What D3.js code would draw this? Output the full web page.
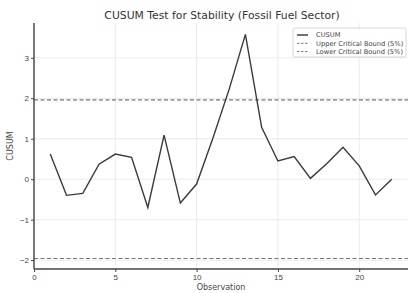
<!DOCTYPE html>
<html><head><meta charset="utf-8">
<script src="https://cdn.jsdelivr.net/npm/d3@7"></script>
<style>body{margin:0;background:#fff;} svg{display:block;font-family:"DejaVu Sans",sans-serif;}</style>
</head><body>
<script>
const observations = [1,2,3,4,5,6,7,8,9,10,11,12,13,14,15,16,17,18,19,20,21,22];
const cusum = [0.62,-0.40,-0.35,0.37,0.62,0.54,-0.70,1.09,-0.59,-0.12,1.01,2.22,3.58,1.28,0.45,0.56,0.02,0.38,0.79,0.33,-0.39,0.0];
const upperBound = 1.96;
const lowerBound = -1.96;
const xTicks = [0,5,10,15,20];
const yTicks = [-2,-1,0,1,2,3];
const legendLabels = ["CUSUM","Upper Critical Bound (5%)","Lower Critical Bound (5%)"];

const W=410,H=293;
const m={l:34,r:2,t:23,b:24};
const svg=d3.select("body").append("svg").attr("width",W).attr("height",H);
const x=d3.scaleLinear().domain([0,23]).range([m.l,W-m.r]);
const y=d3.scaleLinear().domain([-2.22,3.86]).range([H-m.b,m.t]);

// grid
svg.append("g").selectAll("line").data(xTicks).join("line")
 .attr("x1",d=>x(d)).attr("x2",d=>x(d)).attr("y1",m.t).attr("y2",H-m.b)
 .attr("stroke","#e6e6e6").attr("stroke-width",0.8);
svg.append("g").selectAll("line").data(yTicks).join("line")
 .attr("x1",m.l).attr("x2",W-m.r).attr("y1",d=>y(d)).attr("y2",d=>y(d))
 .attr("stroke","#e6e6e6").attr("stroke-width",0.8);

// bounds
[upperBound,lowerBound].forEach(b=>{
 svg.append("line").attr("x1",m.l).attr("x2",W-m.r).attr("y1",y(b)).attr("y2",y(b))
  .attr("stroke","#777").attr("stroke-width",1.2).attr("stroke-dasharray","4,2.5");
});

// line
svg.append("path").datum(observations.map((o,i)=>[o,cusum[i]]))
 .attr("fill","none").attr("stroke","#3a3a3a").attr("stroke-width",1.4)
 .attr("d",d3.line().x(d=>x(d[0])).y(d=>y(d[1])));

// axes
const xa=svg.append("g").attr("transform",`translate(0,${H-m.b})`)
 .call(d3.axisBottom(x).tickValues(xTicks).tickSize(3).tickPadding(2).tickFormat(d3.format("d")));
const ya=svg.append("g").attr("transform",`translate(${m.l},0)`)
 .call(d3.axisLeft(y).tickValues(yTicks).tickSize(3).tickPadding(2).tickFormat(d=>d<0?"\u2212"+Math.abs(d):d));
[xa,ya].forEach(a=>{
 a.select(".domain").attr("stroke","#444").attr("stroke-width",1.4);
 a.selectAll(".tick line").attr("stroke","#444");
 a.selectAll("text").attr("fill","#444").style("font-size","8px");
});
ya.select(".domain").attr("d",`M0,${H-m.b}V${m.t}`);
xa.select(".domain").attr("d",`M${m.l},0H${W-m.r}`);

// title and labels
svg.append("text").attr("x",222).attr("y",19).attr("text-anchor","middle")
 .style("font-size","10.8px").attr("fill","#333").text("CUSUM Test for Stability (Fossil Fuel Sector)");
svg.append("text").attr("x",221).attr("y",290).attr("text-anchor","middle")
 .style("font-size","8px").attr("fill","#444").text("Observation");
svg.append("text").attr("transform",`translate(13,${(m.t+H-m.b)/2}) rotate(-90)`).attr("text-anchor","middle")
 .style("font-size","8px").attr("fill","#444").text("CUSUM");

// legend
const lg=svg.append("g").attr("transform","translate(293,28)");
lg.append("rect").attr("width",113).attr("height",29).attr("fill","#fff").attr("fill-opacity",0.85)
 .attr("stroke","#ccc").attr("stroke-width",0.8).attr("rx",2);
legendLabels.forEach((t,i)=>{
 const yy=7+i*8.3;
 lg.append("line").attr("x1",4).attr("x2",15).attr("y1",yy).attr("y2",yy)
  .attr("stroke",i===0?"#333":"#777").attr("stroke-width",i===0?1.4:1)
  .attr("stroke-dasharray",i===0?null:"2.5,1.5");
 lg.append("text").attr("x",23).attr("y",yy+2.3).style("font-size","6.7px").attr("fill","#444").text(t);
});
</script>
</body></html>
